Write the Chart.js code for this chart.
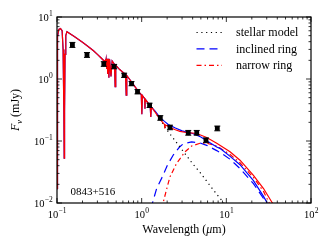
<!DOCTYPE html>
<html>
<head>
<meta charset="utf-8">
<script src="https://cdn.jsdelivr.net/npm/chart.js@4"></script>
<style>
body { margin: 0; background: #fff; }
#box { width: 330px; height: 250px; }
</style>
</head>
<body>
<div id="box"><canvas id="sed" width="330" height="250"></canvas></div>
<script>
'use strict';
// white dwarf spectrum (shared by both total models up to 1.3 um)
let specWave = [0.100, 0.1008, 0.102, 0.105, 0.110, 0.115, 0.118, 0.1205, 0.1216, 0.1228, 0.1245, 0.127, 0.131,
    0.16, 0.20, 0.233, 0.27, 0.30, 0.33, 0.36, 0.366, 0.372, 0.377, 0.380, 0.3835, 0.386, 0.3889, 0.392,
    0.397, 0.402, 0.4102, 0.418, 0.434, 0.448, 0.478, 0.4861, 0.494, 0.55, 0.645, 0.6563, 0.667,
    0.80, 0.91, 0.99, 1.005, 1.02, 1.085, 1.094, 1.103, 1.26, 1.282, 1.30];
let specFlux = [0.017, 1.2, 4.8, 6.3, 6.5, 6.0, 3.0, 0.3, 0.053, 0.3, 2.5, 5.0, 5.8,
    4.85, 3.9, 3.35, 2.85, 2.5, 2.2, 1.95, 1.9, 2.0, 1.9, 2.05, 1.55, 2.1, 1.45, 2.12,
    1.2, 2.12, 1.05, 2.08, 1.1, 1.95, 1.72, 0.75, 1.66, 1.42, 1.18, 0.55, 1.14,
    0.81, 0.64, 0.56, 0.27, 0.54, 0.48, 0.33, 0.47, 0.37, 0.245, 0.355];

// long wavelength parts of the two total models
let narrowTotWave = [1.45, 1.64, 1.86, 1.875, 1.89, 2.16, 2.5, 2.83, 3.5, 4.48, 5.86, 7.7, 11.06, 14.5, 20.9, 27.5, 34.4, 40];
let narrowTotFlux = [0.29, 0.225, 0.185, 0.16, 0.183, 0.165, 0.152, 0.143, 0.136, 0.132, 0.114, 0.092, 0.067, 0.049, 0.028, 0.0171, 0.0104, 0.0075];
let inclTotWave = [1.45, 1.64, 1.86, 2.06, 2.5, 3.0, 4.0, 5.0, 5.86, 7.7, 8.4, 11.0, 14.5, 20.9, 27.5, 30.4, 35];
let inclTotFlux = [0.30, 0.24, 0.207, 0.185, 0.162, 0.146, 0.132, 0.116, 0.101, 0.080, 0.076, 0.057, 0.0415, 0.0229, 0.0128, 0.010, 0.0075];

// components
let starWave = [1.30, 1.45, 1.64, 1.86, 2.06, 2.46, 3.0, 4.0, 5.0, 6.0, 7.5, 8.8, 10];
let starFlux = [0.355, 0.29, 0.225, 0.175, 0.141, 0.103, 0.072, 0.043, 0.030, 0.0215, 0.0145, 0.0111, 0.0088];
let inclWave = [1.28, 1.5, 1.79, 2.0, 2.37, 2.8, 3.1, 3.89, 4.88, 5.86, 7.7, 8.8, 11, 14.5, 20.9, 27.5, 32];
let inclFlux = [0.008, 0.017, 0.028, 0.040, 0.060, 0.080, 0.090, 0.097, 0.093, 0.085, 0.070, 0.063, 0.051, 0.036, 0.0205, 0.0118, 0.0085];
let narrowWave = [1.75, 1.79, 2.0, 2.16, 2.58, 3.25, 3.89, 4.88, 5.86, 7.7, 11, 14.5, 20.9, 27.5, 31.6, 36];
let narrowFlux = [0.008, 0.010, 0.018, 0.0264, 0.0434, 0.0668, 0.083, 0.092, 0.092, 0.083, 0.061, 0.0445, 0.0258, 0.0154, 0.0104, 0.0078];

// photometry
let obsWave = [0.152, 0.226, 0.357, 0.473, 0.621, 0.759, 0.893, 1.24, 1.66, 2.16, 3.55, 4.47, 5.75, 7.82];
let obsFlux = [3.56, 2.45, 1.75, 1.59, 1.15, 0.843, 0.625, 0.377, 0.236, 0.166, 0.136, 0.136, 0.103, 0.160];
let obsErr = [0.33, 0.22, 0.15, 0.13, 0.09, 0.065, 0.05, 0.03, 0.02, 0.014, 0.012, 0.012, 0.009, 0.014];

let xTicks = [0.1, 1, 10, 100];
let xTickExp = ['\u22121', '0', '1', '2'];
let yTicks = [0.01, 0.1, 1, 10];
let yTickExp = ['\u22122', '\u22121', '0', '1'];
let legendNames = ['stellar model', 'inclined ring', 'narrow ring'];
let legendColors = ['#000000', '#0000ff', '#ff0000'];
let legendDash = [[1.2, 3.6], [8, 5], [5, 3, 1.5, 3]];

let serif = '"Liberation Serif", "DejaVu Serif", serif';

function pts(xs, ys) {
    return xs.map((x, i) => ({ x: x, y: ys[i] }));
}

function powLabel(ctx, exp, x, y, align) {
    ctx.font = '10.5px ' + serif;
    let wb = ctx.measureText('10').width;
    ctx.font = '7.5px ' + serif;
    let we = ctx.measureText(exp).width;
    let x0 = align === 'center' ? x - (wb + we) / 2 : x - wb - we;
    ctx.textAlign = 'left';
    ctx.textBaseline = 'alphabetic';
    ctx.font = '10.5px ' + serif;
    ctx.fillText('10', x0, y);
    ctx.font = '7.5px ' + serif;
    ctx.fillText(exp, x0 + wb + 0.3, y - 4.8);
}

let sedAxes = {
    id: 'sedAxes',
    afterDatasetsDraw(chart) {
        let ctx = chart.ctx;
        let a = chart.chartArea;
        let xs = chart.scales.x;
        let ys = chart.scales.y;
        ctx.save();
        ctx.fillStyle = '#000';
        ctx.strokeStyle = '#000';

        // error bars
        ctx.lineWidth = 1;
        for (let i = 0; i < obsWave.length; i++) {
            let px = xs.getPixelForValue(obsWave[i]);
            let y1 = ys.getPixelForValue(obsFlux[i] + obsErr[i]);
            let y2 = ys.getPixelForValue(obsFlux[i] - obsErr[i]);
            ctx.beginPath();
            ctx.moveTo(px, y1); ctx.lineTo(px, y2);
            ctx.moveTo(px - 3, y1); ctx.lineTo(px + 3, y1);
            ctx.moveTo(px - 3, y2); ctx.lineTo(px + 3, y2);
            ctx.stroke();
        }

        // ticks, inside on all sides
        ctx.lineWidth = 0.8;
        ctx.beginPath();
        for (let d = -1; d <= 2; d++) {
            for (let k = 1; k <= 9; k++) {
                let v = k * Math.pow(10, d);
                if (v > 100.001) break;
                let len = k === 1 ? 5 : 2.5;
                let px = xs.getPixelForValue(v);
                ctx.moveTo(px, a.bottom); ctx.lineTo(px, a.bottom - len);
                ctx.moveTo(px, a.top); ctx.lineTo(px, a.top + len);
            }
        }
        for (let d = -2; d <= 1; d++) {
            for (let k = 1; k <= 9; k++) {
                let v = k * Math.pow(10, d);
                if (v > 10.001) break;
                let len = k === 1 ? 5 : 2.5;
                let py = ys.getPixelForValue(v);
                ctx.moveTo(a.left, py); ctx.lineTo(a.left + len, py);
                ctx.moveTo(a.right, py); ctx.lineTo(a.right - len, py);
            }
        }
        ctx.stroke();

        // frame
        ctx.lineWidth = 1.2;
        ctx.strokeRect(a.left, a.top, a.right - a.left, a.bottom - a.top);

        // tick labels
        for (let i = 0; i < xTicks.length; i++) {
            powLabel(ctx, xTickExp[i], xs.getPixelForValue(xTicks[i]), a.bottom + 14.5, 'center');
        }
        for (let i = 0; i < yTicks.length; i++) {
            powLabel(ctx, yTickExp[i], a.left - 4.5, ys.getPixelForValue(yTicks[i]) + 3.6, 'right');
        }

        // x axis title
        ctx.textBaseline = 'alphabetic';
        ctx.textAlign = 'left';
        ctx.font = '12px ' + serif;
        let p1 = 'Wavelength (', p3 = 'm)';
        let w1 = ctx.measureText(p1).width, w3 = ctx.measureText(p3).width;
        ctx.font = 'italic 12px ' + serif;
        let w2 = ctx.measureText('\u03bc').width;
        let cx = (a.left + a.right) / 2;
        let x0 = cx - (w1 + w2 + w3) / 2;
        ctx.font = '12px ' + serif;
        ctx.fillText(p1, x0, 233);
        ctx.font = 'italic 12px ' + serif;
        ctx.fillText('\u03bc', x0 + w1, 233);
        ctx.font = '12px ' + serif;
        ctx.fillText(p3, x0 + w1 + w2, 233);

        // y axis title
        ctx.save();
        ctx.translate(19, (a.top + a.bottom) / 2);
        ctx.rotate(-Math.PI / 2);
        ctx.font = 'italic 12px ' + serif;
        let wf = ctx.measureText('F').width;
        ctx.font = 'italic 8.5px ' + serif;
        let wn = ctx.measureText('\u03bd').width;
        ctx.font = '12px ' + serif;
        let wr = ctx.measureText(' (mJy)').width;
        let y0 = -(wf + wn + wr) / 2;
        ctx.font = 'italic 12px ' + serif;
        ctx.fillText('F', y0, 0);
        ctx.font = 'italic 8.5px ' + serif;
        ctx.fillText('\u03bd', y0 + wf, 2.5);
        ctx.font = '12px ' + serif;
        ctx.fillText(' (mJy)', y0 + wf + wn, 0);
        ctx.restore();

        // object name
        ctx.font = '11px ' + serif;
        ctx.fillText('0843+516', 70.5, 194.5);

        // legend
        ctx.textBaseline = 'middle';
        for (let i = 0; i < legendNames.length; i++) {
            let ly = 32.5 + i * 16.4;
            ctx.strokeStyle = legendColors[i];
            ctx.lineWidth = 1.2;
            ctx.setLineDash(legendDash[i]);
            ctx.beginPath();
            ctx.moveTo(196.5, ly); ctx.lineTo(222, ly);
            ctx.stroke();
            ctx.setLineDash([]);
            ctx.font = '12px ' + serif;
            ctx.fillStyle = '#000';
            ctx.fillText(legendNames[i], 236, ly + 0.5);
        }
        ctx.restore();
    }
};

let lineOpts = { showLine: true, pointRadius: 0, fill: false, tension: 0, borderWidth: 1.2 };

// chart.js paints the first dataset on top, so the list runs top to bottom
let ctx = document.getElementById('sed').getContext('2d');
let sedChart = new Chart(ctx, {
    type: 'scatter',
    data: {
        datasets: [
            {
                label: 'photometry',
                data: pts(obsWave, obsFlux),
                showLine: false,
                pointStyle: 'rect',
                pointRadius: 3.4,
                backgroundColor: '#000',
                borderColor: '#000',
                borderWidth: 0
            },
            Object.assign({ label: 'star + narrow ring', data: pts(specWave.concat(narrowTotWave), specFlux.concat(narrowTotFlux)), borderColor: '#ff0000' }, lineOpts),
            Object.assign({ label: 'star + inclined ring', data: pts(specWave.concat(inclTotWave), specFlux.concat(inclTotFlux)), borderColor: '#0000ff' }, lineOpts),
            Object.assign({ label: 'stellar model', data: pts(starWave, starFlux), borderColor: '#000000', borderDash: [1.2, 3.6] }, lineOpts),
            Object.assign({ label: 'narrow ring', data: pts(narrowWave, narrowFlux), borderColor: '#ff0000', borderDash: [5, 3, 1.5, 3] }, lineOpts),
            Object.assign({ label: 'inclined ring', data: pts(inclWave, inclFlux), borderColor: '#0000ff', borderDash: [8, 5] }, lineOpts)
        ]
    },
    options: {
        responsive: false,
        animation: false,
        layout: { padding: { left: 57, right: 19, top: 17, bottom: 47 } },
        plugins: { legend: { display: false }, tooltip: { enabled: false } },
        scales: {
            x: { type: 'logarithmic', min: 0.1, max: 100, display: false },
            y: { type: 'logarithmic', min: 0.01, max: 10, display: false }
        }
    },
    plugins: [sedAxes]
});
</script>
</body>
</html>
